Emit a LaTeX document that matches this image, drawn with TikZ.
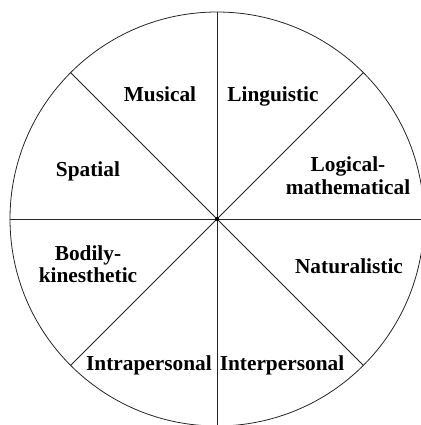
\documentclass[tikz,border=0pt]{standalone}
\usepackage{fontspec}
\setmainfont{Liberation Serif}
\usepackage{tikz}
\usetikzlibrary{positioning, calc}

\begin{document}
\begin{tikzpicture}[x=0.75pt, y=-0.75pt,
    rim/.style={draw=black!85, line width=0.6pt},
    spoke/.style={draw=black!85, line width=0.6pt},
    lbl/.style={font=\fontsize{16}{17}\selectfont\bfseries, align=center,
                anchor=base, inner sep=0pt}
  ]
  \clip (0,0) rectangle (421,425);
  \coordinate (c) at (217,219);
  \foreach \a in {0,45,...,315}
    \coordinate (p\a) at ($(c)+(\a:207)$);
  \draw[rim] (c) circle (207);
  \foreach \a in {0,45,...,315}
    \draw[spoke] (c) -- (p\a);
  \fill[black] (c) circle (2);

  \node[lbl] (mus) at (160,101) {Musical};
  \node[lbl] (lin) at (273,101) {Linguistic};
  \node[lbl] (spa) at (88,176.7) {Spatial};
  \node[lbl] (log) at (348,194.3) {Logical-\\mathematical};
  \node[lbl] (bod) at (88,282.7) {Bodily-\\kinesthetic};
  \node[lbl] (nat) at (349,273.3) {Naturalistic};
  \node[lbl] (intra) at (149,370) {Intrapersonal};
  \node[lbl] (inter) at (282,370) {Interpersonal};
\end{tikzpicture}
\end{document}
